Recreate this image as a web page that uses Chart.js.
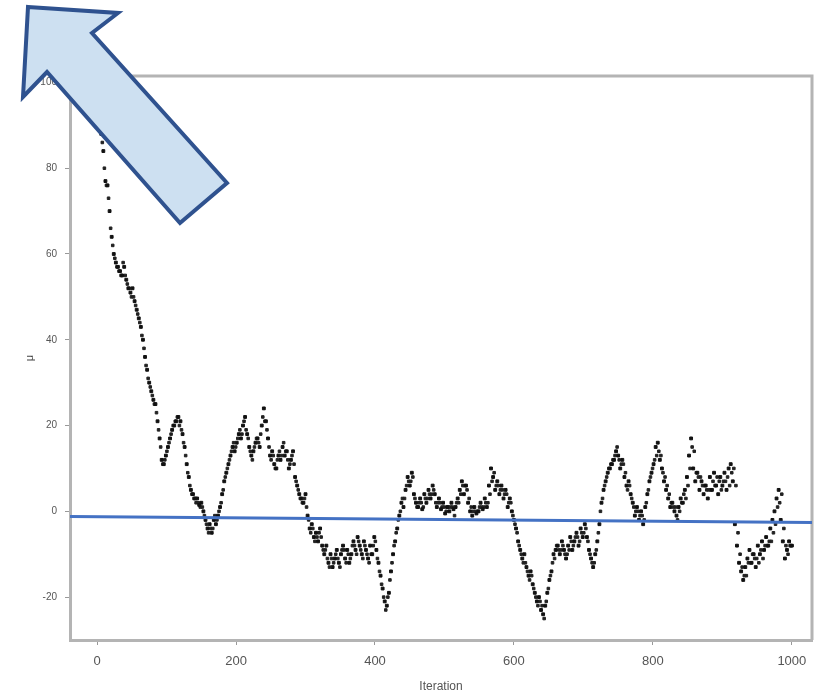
<!DOCTYPE html>
<html><head><meta charset="utf-8">
<script src="https://cdn.jsdelivr.net/npm/chart.js@4/dist/chart.umd.min.js"></script>
<style>html,body{margin:0;padding:0;background:#fff}#wrap{width:828px;height:694px;position:relative}</style>
</head><body><div id="wrap"><canvas id="c" width="828" height="694"></canvas></div>
<script>
const iterations = [0,3,6,9,12,15,18,21,24,27,30,33,36,39,42,45,48,51,54,57,60,63,66,69,72,75,78,81,84,87,90,93,96,99,102,105,108,111,114,117,120,123,126,129,132,135,138,141,144,147,150,153,156,159,162,165,168,171,174,177,180,183,186,189,192,195,198,201,204,207,210,213,216,219,222,225,228,231,234,237,240,243,246,249,252,255,258,261,264,267,270,273,276,279,282,285,288,291,294,297,300,303,306,309,312,315,318,321,324,327,330,333,336,339,342,345,348,351,354,357,360,363,366,369,372,375,378,381,384,387,390,393,396,399,402,405,408,411,414,417,420,423,426,429,432,435,438,441,444,447,450,453,456,459,462,465,468,471,474,477,480,483,486,489,492,495,498,501,504,507,510,513,516,519,522,525,528,531,534,537,540,543,546,549,552,555,558,561,564,567,570,573,576,579,582,585,588,591,594,597,600,603,606,609,612,615,618,621,624,627,630,633,636,639,642,645,648,651,654,657,660,663,666,669,672,675,678,681,684,687,690,693,696,699,702,705,708,711,714,717,720,723,726,729,732,735,738,741,744,747,750,753,756,759,762,765,768,771,774,777,780,783,786,789,792,795,798,801,804,807,810,813,816,819,822,825,828,831,834,837,840,843,846,849,852,855,858,861,864,867,870,873,876,879,882,885,888,891,894,897,900,903,906,909,912,915,918,921,924,927,930,933,936,939,942,945,948,951,954,957,960,963,966,969,972,975,978,981,984,987,990,993,996,999];
const values = [96.5,91,88,84,77,76,70,64,60,58,57,56,55,57,54,52,51,52,49,47,45,43,40,36,33,30,28,26,25,21,17,12,11,13,15,17,19,20,21,22,21,18,15,11,8,5,4,3,3,1.5,2,0,-2,-4,-3,-5,-2,-3,-1,1,4,7,9,11,13,15,14,16,18,17,20,22,18,15,13,14,16,17,15,20,24,21,17,13,14,11,10,13,12,15,13,14,10,12,14,8,6,4,3,2,4,-1,-4,-3,-6,-5,-7,-4,-8,-10,-8,-12,-10,-13,-11,-9,-12,-10,-8,-11,-9,-12,-10,-7,-9,-6,-8,-10,-7,-9,-11,-8,-10,-6,-9,-12,-15,-18,-21,-22,-19,-14,-10,-7,-4,-1,2,1,5,8,6,9,4,2,1,3,0.5,4,2,5,3,6,4,1,3,0.5,2,-0.5,1,0,2,0.5,1,3,5,7,4,6,2,0,-1,1,-0.5,0,2,0.5,3,1,6,10,8,5,7,4,6,3,5,1,3,0,-2,-4,-7,-9,-11,-10,-13,-15,-14,-17,-19,-21,-20,-23,-24,-22,-19,-16,-14,-10,-9,-8,-10,-7,-9,-11,-8,-6,-9,-7,-5,-8,-4,-6,-3,-6,-9,-11,-13,-10,-7,-3,2,5,7,9,10,11,12,14,13,10,12,8,6,7,4,2,-1,1,-2,0,-3,1,4,7,9,11,15,16,12,10,7,5,3,1,2,0,-1,1,3,2,5,8,13,17,10,7,9,5,7,4,6,3,8,5,9,6,4,8,6,9,5,10,11,7,-3,-8,-12,-14,-16,-13,-11,-9,-12,-10,-13,-8,-10,-7,-9,-6,-8,-4,-2,0,3,5,-2,-7,-11,-9,-7,-8];
const values2 = [93,89,86,80,76,73,66,62,59,57,56,55,58,55,53,52,50,50,48,46,44,41,38,34,31,29,27,25,23,19,15,11,12,14,16,18,20,21,22,20,19,16,13,9,6,4,3,2,2,1,1,-1,-3,-5,-4,-4,-1,-2,0,2,5,8,10,12,14,16,15,17,19,18,21,19,17,14,12,15,17,16,18,22,21,19,15,12,13,10,12,14,13,16,14,12,11,13,11,7,5,3,2,3,1,-2,-5,-4,-7,-6,-5,-6,-9,-9,-11,-13,-11,-12,-10,-11,-13,-9,-9,-12,-10,-11,-8,-8,-10,-7,-9,-11,-8,-10,-12,-10,-8,-7,-11,-14,-17,-20,-23,-20,-16,-12,-8,-5,-2,0,3,3,6,7,7,8,3,1,2,2,1,3,3,4,4,5,2,2,2,1,1,0,1,1,1,-1,2,2,4,6,6,5,3,1,0,0,0,1,1,1,2,2,4,7,9,6,6,5,5,4,4,2,2,-1,-3,-5,-8,-10,-12,-12,-14,-16,-15,-18,-20,-22,-21,-22,-25,-21,-18,-15,-12,-11,-8,-9,-9,-8,-10,-10,-9,-7,-8,-6,-6,-7,-5,-5,-4,-7,-10,-12,-12,-9,-5,0,3,6,8,10,11,12,13,15,12,11,11,9,5,6,3,1,0,0,-1,-1,-2,2,5,8,10,12,13,14,13,9,8,6,4,2,1,1,-2,0,2,4,3,6,10,15,14,9,8,8,6,6,5,5,5,7,6,8,7,5,7,7,8,6,9,10,6,-5,-10,-13,-15,-15,-12,-12,-10,-11,-11,-12,-9,-11,-8,-8,-7,-7,-5,-3,1,2,4,-4,-8,-10,-8,-8];
const xTickValues = [0,200,400,600,800,1000];
const yTickValues = [-20,0,20,40,60,80,100];
const trendX = [-39,1029];
const trendY = [-1.2,-2.6];
const xTitle = "Iteration";
const yTitle = "μ";

const pts = iterations.map((x,i)=>({x, y: values[i]}));
const pts2 = values2.map((y,i)=>({x: iterations[i]+1.5, y}));
const trend = trendX.map((x,i)=>({x, y: trendY[i]}));

const framePlugin = {
  id:'frame',
  beforeDatasetsDraw(chart){
    const {ctx, chartArea:a} = chart;
    ctx.save();
    ctx.strokeStyle='#b4b4b4'; ctx.lineWidth=3;
    ctx.beginPath();
    ctx.moveTo(a.left, a.top); ctx.lineTo(a.right, a.top); ctx.lineTo(a.right, a.bottom);
    ctx.stroke();
    ctx.fillStyle='#444';
    ctx.font='11px "Liberation Sans"';
    ctx.textAlign='center'; ctx.textBaseline='middle';
    ctx.translate(30, (a.top+a.bottom)/2);
    ctx.rotate(-Math.PI/2);
    ctx.fillText(yTitle, 0, 0);
    ctx.restore();
  }
};
const arrowPlugin = {
  id:'arrow',
  afterDraw(chart){
    const ctx = chart.ctx;
    const p = [[28,7],[118,13],[92,33],[227,183],[180,223],[47,72],[23,97]];
    ctx.save();
    ctx.beginPath();
    ctx.moveTo(p[0][0],p[0][1]);
    for (let i=1;i<p.length;i++) ctx.lineTo(p[i][0],p[i][1]);
    ctx.closePath();
    ctx.fillStyle='#cde0f1';
    ctx.fill();
    ctx.lineWidth=4; ctx.lineJoin='miter';
    ctx.strokeStyle='#2f528f';
    ctx.stroke();
    ctx.restore();
  }
};

new Chart(document.getElementById('c'), {
  type:'scatter',
  data:{datasets:[
    {type:'line', data:trend, borderColor:'#4472c4', borderWidth:3, pointRadius:0, order:0, clip:false},
    {data:pts, backgroundColor:'#111', borderColor:'#111', pointRadius:2, pointStyle:'rect', order:1},
    {data:pts2, backgroundColor:'#222', borderColor:'#222', pointRadius:1.8, pointStyle:'rect', order:2}
  ]},
  options:{
    responsive:false, animation:false,
    layout:{padding:{top:76,right:16,left:0,bottom:0}},
    plugins:{legend:{display:false}, tooltip:{enabled:false}},
    scales:{
      x:{type:'linear', min:-39, max:1029,
        afterBuildTicks(s){ s.ticks = xTickValues.map(v=>({value:v})); },
        afterFit(s){ s.height = 54; },
        grid:{display:true, drawOnChartArea:false, tickLength:5, color:'#999'},
        border:{display:true, color:'#b4b4b4', width:3},
        ticks:{color:'#555', font:{family:'Liberation Sans', size:13}, padding:9, maxRotation:0, callback:v=>String(v)},
        title:{display:true, text:xTitle, color:'#555', font:{family:'Liberation Sans', size:12}, padding:{top:0,bottom:0}}
      },
      y:{type:'linear', min:-30, max:101.5,
        afterBuildTicks(s){ s.ticks = yTickValues.map(v=>({value:v})); },
        afterFit(s){ s.width = 70; },
        grid:{display:true, drawOnChartArea:false, tickLength:5, color:'#999'},
        border:{display:true, color:'#b4b4b4', width:3},
        ticks:{color:'#555', font:{family:'Liberation Sans', size:10}, padding:8},
        title:{display:false}
      }
    }
  },
  plugins:[framePlugin, arrowPlugin]
});
</script>
</body></html>
